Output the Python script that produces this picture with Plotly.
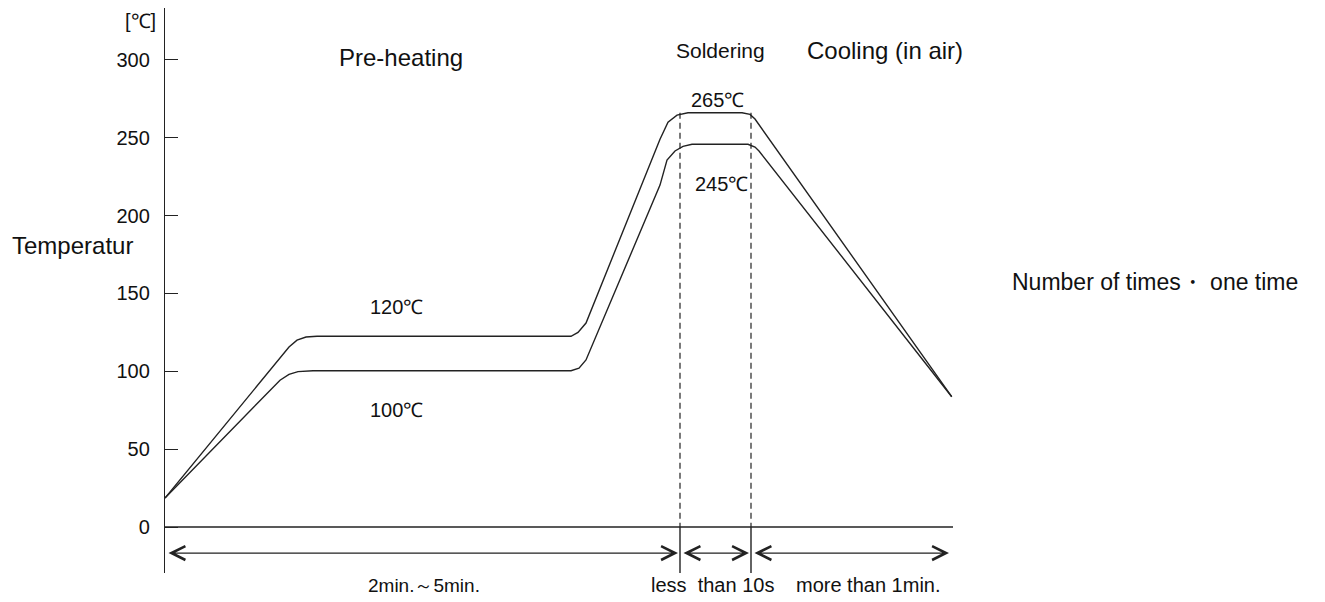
import plotly.graph_objects as go

# ---- data (time in arbitrary units, temperature in °C) ----
upper_t = [0, 124, 132, 141, 152, 406, 413, 421, 495, 503, 512, 523, 577, 585, 590, 786.7]
upper_T = [18.6, 115.6, 120, 122, 122.5, 122.5, 125, 131, 249, 260, 264.5, 266, 266, 265, 262, 83.7]

lower_t = [0, 115, 124, 133, 148, 406, 414, 421, 495, 502, 510, 518, 527, 583, 590, 594, 786.7]
lower_T = [18.6, 94.3, 98, 99.8, 100.4, 100.4, 102, 107.3, 219.6, 235.7, 241.5, 244.5, 245.8, 245.8, 244, 241.5, 83.7]

phase_bounds = [0, 515, 586, 786]      # pre-heating | soldering | cooling
axis_end = 788
peak_T = 266
y_ticks = [0, 50, 100, 150, 200, 250, 300]
x_range = [0, 835]
y_range = [-29.5, 333.3]
arrow_T = -16.7

phase_titles = ["Pre-heating", "Soldering", "Cooling (in air)"]
phase_title_pos = [(236, 301.5), (555, 306), (720, 306)]
phase_title_size = [24, 21, 24]
phase_durations = ["2min.～5min.", "less  than 10s", "more than 1min."]
duration_x = [259, 547, 703]
duration_size = [19, 20, 20]
duration_T = -37.3

temp_labels = ["120℃", "100℃", "265℃", "245℃"]
temp_label_pos = [(231, 141.5), (231, 75), (552, 274.5), (556, 220.5)]

LINE = "#222222"
SANS = "Liberation Sans, Arial, sans-serif"
TXT = "#111111"


def px(x):
    return (x - x_range[0]) / (x_range[1] - x_range[0])


def py(t):
    return (t - y_range[0]) / (y_range[1] - y_range[0])


def label(x, t, text, size, xanchor="center"):
    fig.add_annotation(x=px(x), y=py(t), xref="paper", yref="paper", text=text,
                       showarrow=False, xanchor=xanchor, yanchor="middle",
                       font=dict(family=SANS, size=size, color=TXT))


fig = go.Figure()

fig.add_trace(go.Scatter(x=upper_t, y=upper_T, mode="lines",
                         line=dict(color=LINE, width=1.4), hoverinfo="skip"))
fig.add_trace(go.Scatter(x=lower_t, y=lower_T, mode="lines",
                         line=dict(color=LINE, width=1.4), hoverinfo="skip"))

# zero baseline
fig.add_trace(go.Scatter(x=[0, axis_end], y=[0, 0], mode="lines",
                         line=dict(color=LINE, width=1.4), hoverinfo="skip"))

# dashed soldering boundaries + solid ticks below baseline
for xb in phase_bounds[1:3]:
    fig.add_trace(go.Scatter(x=[xb, xb], y=[peak_T, 0], mode="lines",
                             line=dict(color=LINE, width=1.2, dash="6px,4px"), hoverinfo="skip"))
    fig.add_trace(go.Scatter(x=[xb, xb], y=[0, y_range[0]], mode="lines",
                             line=dict(color=LINE, width=1.4), hoverinfo="skip"))

# double arrows
for i in range(3):
    x0 = phase_bounds[i] + 2
    x1 = phase_bounds[i + 1] - 2
    fig.add_annotation(x=x1, y=arrow_T, ax=x0, ay=arrow_T, xref="x", yref="y",
                       axref="x", ayref="y", text="", showarrow=True,
                       arrowhead=5, startarrowhead=5, arrowside="end+start",
                       arrowsize=2.1, startarrowsize=2.1, arrowwidth=1.3,
                       arrowcolor=LINE)

for txt, (xx, tt), sz in zip(phase_titles, phase_title_pos, phase_title_size):
    label(xx, tt, txt, sz)

for txt, xx, sz in zip(phase_durations, duration_x, duration_size):
    label(xx, duration_T, txt, sz)

for txt, (xx, tt) in zip(temp_labels, temp_label_pos):
    label(xx, tt, txt, 20)

label(-25, 325, "[℃]", 20)
label(-155, 181, "Temperatur", 24, xanchor="left")
label(845, 157.5, "Number of times・ one time", 23, xanchor="left")

# figure is 8px smaller than the window to absorb the page's default body margin
fig.update_layout(
    width=1317, height=594,
    margin=dict(l=157, r=325, t=0, b=29),
    paper_bgcolor="white", plot_bgcolor="white",
    showlegend=False,
    xaxis=dict(range=x_range, visible=False, fixedrange=True),
    yaxis=dict(range=y_range, tickvals=y_ticks, ticks="inside", ticklen=13,
               tickwidth=1.3, tickcolor=LINE, showline=True, linecolor=LINE,
               linewidth=1.4, showgrid=False, zeroline=False,
               ticklabelstandoff=10, fixedrange=True,
               tickfont=dict(family=SANS, size=20, color=TXT)),
)

fig.write_html("out.html")
